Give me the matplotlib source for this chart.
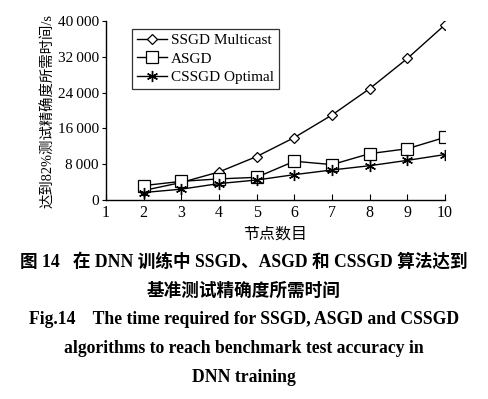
import matplotlib.pyplot as plt

nodes = [2, 3, 4, 5, 6, 7, 8, 9, 10]
ssgd_multicast = [2100, 3900, 6250, 9700, 13950, 19000, 24900, 31650, 39200]
asgd = [3200, 4150, 4700, 5050, 8650, 7900, 10350, 11450, 14000]
cssgd_optimal = [1650, 2400, 3650, 4450, 5650, 6700, 7650, 8850, 10150]

x_ticks = [1, 2, 3, 4, 5, 6, 7, 8, 9, 10]
y_ticks = [0, 8000, 16000, 24000, 32000, 40000]
y_tick_labels = ['0', '8\u2009000', '16\u2009000', '24\u2009000', '32\u2009000', '40\u2009000']

caption = [
    '图 14   在 DNN 训练中 SSGD、ASGD 和 CSSGD 算法达到',
    '基准测试精确度所需时间',
    'Fig.14    The time required for SSGD, ASGD and CSSGD',
    'algorithms to reach benchmark test accuracy in',
    'DNN training',
]

serif = ['Liberation Serif', 'Noto Sans CJK SC']

plt.rcParams['font.family'] = serif

fig = plt.figure(figsize=(4.88, 3.99), dpi=100)
ax = fig.add_axes([0.217, 0.499, 0.695, 0.448])

ax.plot(nodes, ssgd_multicast, color='black', lw=1.0, marker='D', ms=5,
        mfc='white', mec='black', mew=0.9, label='SSGD Multicast')
ax.plot(nodes, asgd, color='black', lw=1.0, marker='s', ms=8,
        mfc='white', mec='black', mew=0.9, label='ASGD')
ax.plot(nodes, cssgd_optimal, color='black', lw=1.0, marker=(6, 2, 0), ms=8,
        mec='black', mew=1.0, label='CSSGD Optimal')

ax.set_xlim(1, 10)
ax.set_ylim(0, 40000)
ax.set_xticks(x_ticks)
ax.set_yticks(y_ticks)
ax.set_yticklabels(y_tick_labels)
ax.tick_params(axis='x', direction='in', length=4, labelsize=11.5, pad=4)
ax.tick_params(axis='y', direction='out', length=3, labelsize=11, pad=2)
ax.spines['top'].set_visible(False)
ax.spines['right'].set_visible(False)
for s in ['left', 'bottom']:
    ax.spines[s].set_linewidth(1.0)

ax.set_xlabel('节点数目', fontsize=11.5, labelpad=4)
ax.set_ylabel('达到82%测试精确度所需时间/s', fontsize=10.4)
ax.yaxis.set_label_coords(-0.15, 0.5)

leg = ax.legend(loc='upper left', bbox_to_anchor=(0.077, 0.955), fontsize=11,
                handlelength=2.0, handletextpad=0.25, borderpad=0.3,
                labelspacing=0.3, borderaxespad=0, frameon=True, fancybox=False)
leg.get_frame().set_edgecolor('black')
leg.get_frame().set_linewidth(0.9)

ys = [0.343, 0.270, 0.198, 0.126, 0.055]
for txt, y in zip(caption, ys):
    fig.text(0.5, y, txt, ha='center', va='center',
             fontsize=12.7, fontweight='bold')

fig.savefig('out.png', dpi=100)
